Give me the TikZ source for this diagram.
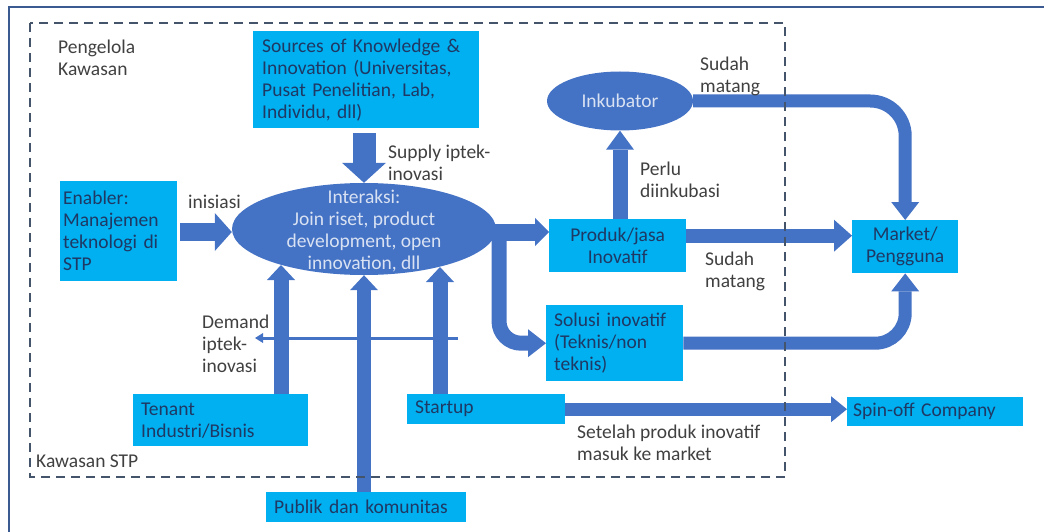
\documentclass[tikz,border=0pt]{standalone}
\usepackage{fontspec}
\setmainfont{Carlito}
\usetikzlibrary{arrows.meta,shapes.geometric,calc}
\definecolor{boxc}{HTML}{00B0F0}
\definecolor{arrc}{HTML}{4472C4}
\definecolor{boxt}{HTML}{1F3864}
\definecolor{elltxt}{HTML}{D9E2F3}
\definecolor{lblc}{HTML}{404040}
\definecolor{dashc}{HTML}{44546A}
\definecolor{framec}{HTML}{3C5A92}
\newcommand\myst{\rule{0pt}{14pt}}
\tikzset{
  every node/.style={font=\fontsize{19.5}{22}\selectfont},
  box/.style={fill=boxc, text=boxt, inner ysep=0pt, anchor=north west},
  lbl/.style={text=lblc, inner sep=0pt, anchor=north west, align=left},
  blk/.style n args={3}{draw=arrc, line width=#1, -{Triangle[width=#2,length=#3,line width=0pt]}},
}
\begin{document}
\begin{tikzpicture}[x=1pt,y=-1pt]
\useasboundingbox (0,0) rectangle (1044,532);
\draw[framec, line width=2.5pt] (9,532) -- (9,7) -- (1044,7);

% boxes
\node[box, inner xsep=9pt, text width=208pt, minimum height=97pt, align=left] (src) at (253,31) {Sources of Knowledge \&\\Innovation (Universitas,\\Pusat Penelitian, Lab,\\Individu, dll)};
\node[box, inner xsep=3pt, text width=111pt, minimum height=100pt, align=left] (enab) at (60,181) {Enabler:\\Manajemen\\teknologi di\\STP};
\node[box, inner xsep=8pt, text width=159pt, minimum height=52pt, align=left] (tenant) at (133,394) {Tenant\\Industri/Bisnis};
\node[box, inner xsep=8pt, text width=142pt, minimum height=30pt, align=left] (startup) at (407,394) {Startup};
\node[box, inner xsep=8pt, text width=184pt, minimum height=30pt, align=left] (publik) at (266,492) {Publik dan komunitas};
\node[box, inner xsep=8pt, text width=121pt, minimum height=76pt, align=left] (solusi) at (546,305) {Solusi inovatif\\(Teknis/non\\teknis)};
\node[box, inner xsep=6pt, text width=164pt, minimum height=29pt, align=left] (spin) at (847,397) {Spin-off Company};
\node[box, inner xsep=8pt, text width=121pt, minimum height=53pt, align=center] (produk) at (549,219) {Produk/jasa\\Inovatif};
\node[box, inner xsep=4pt, text width=98pt, minimum height=53pt, align=center] (market) at (852,220) {Market/\\Pengguna};

% ellipses
\node[ellipse, fill=arrc, minimum width=264pt, minimum height=92pt, inner sep=0pt] (ell) at (364,229) {};
\node[text=elltxt, inner sep=0pt, anchor=north, align=center] (elltext) at (364,189) {\myst Interaksi:\\Join riset, product\\development, open\\innovation, dll};
\node[ellipse, fill=arrc, minimum width=146pt, minimum height=59pt, inner sep=0pt, text=elltxt] (ink) at (620,101) {Inkubator};

% helper coordinates
\coordinate (eR) at (488,232);
\coordinate (br) at (499,232);
\coordinate (eT) at (281,265);
\coordinate (eS) at (440,267);
\coordinate (dR) at (458,338);
\coordinate (dL) at (255,338);
\coordinate (pm) at ($(produk.east)+(0,-10)$);
\coordinate (ew) at ($(ell.west)+(0,3)$);

% arrows
\draw[draw=arrc, line width=3pt, -{Triangle[width=10pt,length=8pt,line width=0pt]}] (dR) -- (dL);
\draw[blk={23pt}{44pt}{20pt}] ($(ell.north |- src.south)+(0,5)$) -- (ell.north);
\draw[blk={18pt}{38pt}{17pt}] ($(enab.east |- ew)+(3,0)$) -- (ew);
\draw[blk={17pt}{28pt}{14pt}] (eR) -- (eR -| produk.west);
\draw[blk={15pt}{28pt}{18pt}, rounded corners=22pt] (br) |- (solusi.west);
\draw[blk={14pt}{32pt}{18pt}] (pm) -- (pm -| market.west);
\draw[blk={15pt}{28pt}{19pt}] (ink.south |- produk.north) -- (ink.south);
\draw[blk={13pt}{28pt}{18pt}, rounded corners=35pt] (ink.east) -| (market.north);
\draw[blk={13pt}{28pt}{18pt}, rounded corners=30pt] (solusi.east) -| (market.south);
\draw[blk={15pt}{28pt}{15pt}] (tenant.north -| eT) -- (eT);
\draw[blk={14pt}{28pt}{15pt}] (publik.north -| ell.south) -- (ell.south);
\draw[blk={15pt}{28pt}{15pt}] (startup.north -| eS) -- (eS);
\draw[blk={13pt}{26pt}{16pt}] (startup.east) -- (startup.east -| spin.west);

% labels
\node[lbl] (l1) at (58,39) {\myst Pengelola\\Kawasan};
\node[lbl] (l2) at (388,144) {\myst Supply iptek-\\inovasi};
\node[lbl] (l3) at (188,194) {\myst inisiasi};
\node[lbl] (l4) at (700,56) {\myst Sudah\\matang};
\node[lbl] (l5) at (640,161) {\myst Perlu\\diinkubasi};
\node[lbl] (l6) at (705,251) {\myst Sudah\\matang};
\node[lbl] (l7) at (202,314) {\myst Demand\\iptek-\\inovasi};
\node[lbl] (l8) at (577,424) {\myst Setelah produk inovatif\\masuk ke market};
\node[lbl] (l9) at (36,453) {\myst Kawasan STP};

% STP boundary
\draw[dashc, line width=1.5pt, dash pattern=on 9pt off 6pt] (30,23) rectangle (785,477);
\end{tikzpicture}
\end{document}
